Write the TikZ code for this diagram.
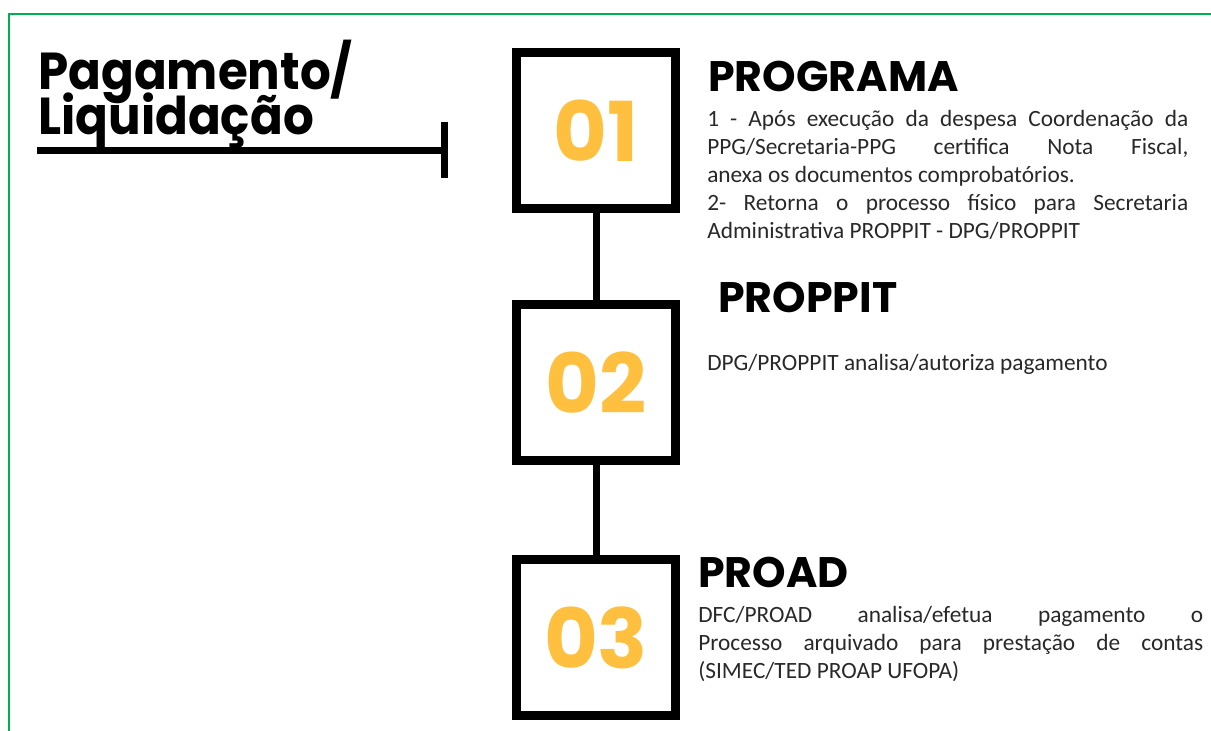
\documentclass[tikz,border=0pt]{standalone}
\usepackage{fontspec}
\setmainfont{Carlito}
\newfontfamily\headfont{Poppins}
\newfontfamily\titlefont{Poppins}[FakeStretch=0.93]
\definecolor{framegreen}{RGB}{0,176,80}
\definecolor{numyellow}{RGB}{255,192,64}
\definecolor{bodygray}{RGB}{40,40,40}
\begin{document}
\begin{tikzpicture}[x=0.75pt,y=-0.75pt,
  stepbox/.style={draw=black, line width=6.75pt, minimum width=119.25pt, minimum height=117pt, inner sep=0pt},
  numtext/.style={text=numyellow, inner sep=0pt, font=\headfont\bfseries\fontsize{62pt}{62pt}\selectfont},
  headtext/.style={anchor=base west, inner sep=0pt, font=\headfont\bfseries\fontsize{32pt}{32pt}\selectfont},
  titletext/.style={anchor=base west, inner sep=0pt, font=\titlefont\bfseries\fontsize{39pt}{39pt}\selectfont},
  bodytext/.style={anchor=base west, inner sep=0pt, text=bodygray, font=\fontsize{17.5pt}{21pt}\selectfont},
  connector/.style={line width=5.25pt, black},
  titleline/.style={line width=5.25pt, black}]
\useasboundingbox (0,0) rectangle (1211,731);
\clip (0,0) rectangle (1211,731);
% frame
\draw[framegreen, line width=1.5pt] (9,14) rectangle (1240,770);
% title
\node[titletext] (t1) at (38,90) {Pagamento/};
\node[titletext] (t2) at (38,135) {Liquidação};
\coordinate (ls) at (37,151);
\coordinate (le) at (444,151);
\coordinate (tt) at (444,122);
\coordinate (tb) at (444,178);
\draw[titleline] (ls) -- (le);
\draw[titleline] (tt) -- (tb);
% boxes
\node[stepbox] (b1) at (596,131) {};
\node[stepbox] (b2) at (596,382.5) {};
\node[stepbox] (b3) at (596,637.5) {};
\draw[connector] (b1.south) -- (b2.north);
\draw[connector] (b2.south) -- (b3.north);
\node[numtext] (n1) at (b1.center) {01};
\node[numtext] (n2) at (b2.center) {02};
\node[numtext] (n3) at (b3.center) {03};
% headers
\node[headtext] (h1) at (708,92) {PROGRAMA};
\node[headtext] (h2) at (718,312) {PROPPIT};
\node[headtext] (h3) at (698,587) {PROAD};
% body
\node[bodytext, text width=360.75pt, align=justify] (p1) at (707,127)
 {1 - Após execução da despesa Coordenação da\linebreak PPG/Secretaria-PPG certifica Nota Fiscal,\linebreak anexa os documentos comprobatórios.\par
 2- Retorna o processo físico para Secretaria\linebreak Administrativa PROPPIT - DPG/PROPPIT};
\node[bodytext] (p2) at (707,370) {DPG/PROPPIT analisa/autoriza pagamento};
\node[bodytext, text width=378.75pt, align=justify] (p3) at (698,622)
 {DFC/PROAD analisa/efetua pagamento o\linebreak Processo arquivado para prestação de contas\linebreak (SIMEC/TED PROAP UFOPA)};
\end{tikzpicture}
\end{document}
